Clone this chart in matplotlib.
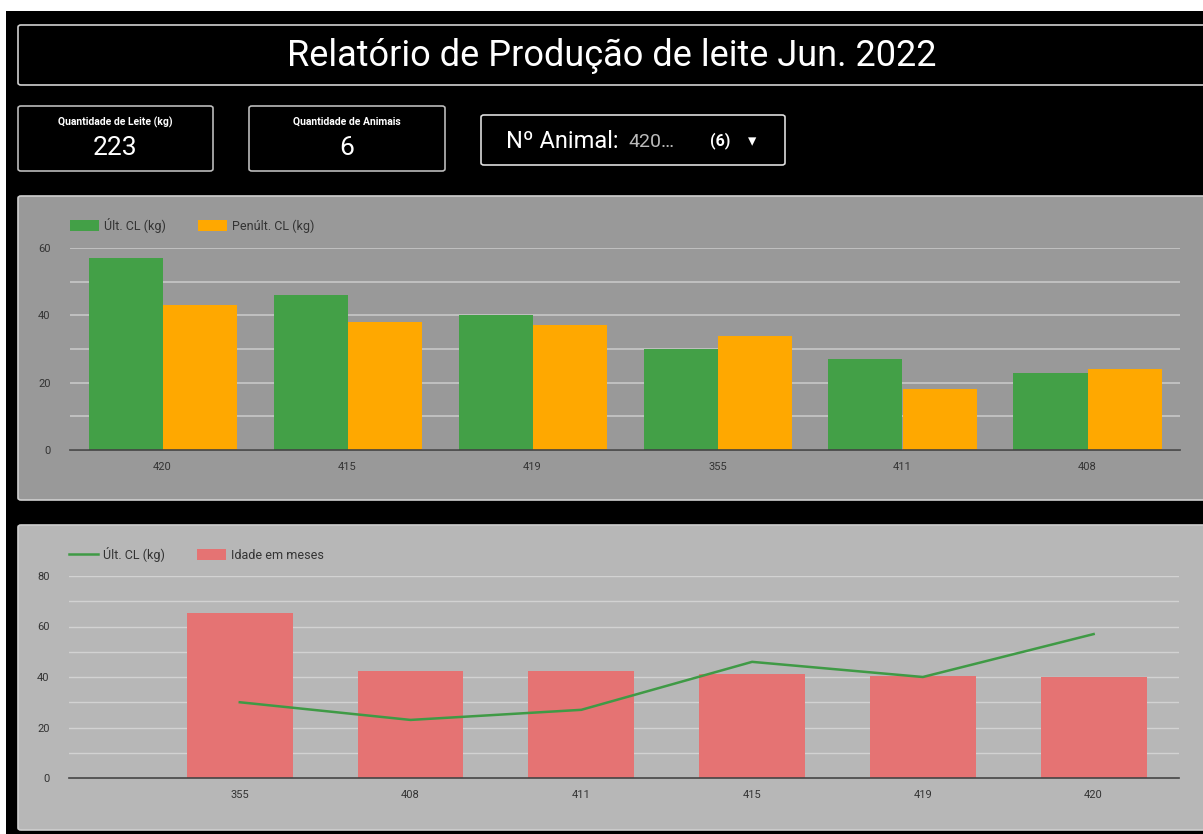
import numpy as np
import matplotlib
matplotlib.use("Agg")
import matplotlib.pyplot as plt
from matplotlib.patches import Rectangle, FancyBboxPatch, Patch
from matplotlib.lines import Line2D

plt.rcParams['font.family'] = ['Roboto', 'DejaVu Sans']

# dados do relatório
animais_cl = ['420', '415', '419', '355', '411', '408']
ult_cl = [57, 46, 40, 30, 27, 23]
penult_cl = [43, 38, 37, 34, 18, 24]

animais_idade = ['355', '408', '411', '415', '419', '420']
idade_meses = [65.5, 42.5, 42.5, 41, 40.5, 40]
ult_cl_idade = [30, 23, 27, 46, 40, 57]

total_leite = sum(ult_cl)
n_animais = len(animais_cl)

W, H = 1203, 834
fig = plt.figure(figsize=(W / 100, H / 100), dpi=100, facecolor='black')


def fx(x):
    return x / W


def fy(y):
    return 1 - y / H


def box(x0, y0, x1, y1, face='black', edge='#d0d0d0', lw=1.2, r=3):
    p = FancyBboxPatch((fx(x0), fy(y1)), fx(x1) - fx(x0), fy(y0) - fy(y1),
                       boxstyle="round,pad=0,rounding_size=%f" % (r / W),
                       transform=fig.transFigure, facecolor=face, edgecolor=edge,
                       linewidth=lw, zorder=-1)
    fig.patches.append(p)


# faixas brancas da captura de tela
fig.patches.append(Rectangle((0, fy(11)), 1, 11 / H, transform=fig.transFigure,
                             facecolor='white', edgecolor='none', zorder=-1))
fig.patches.append(Rectangle((0, 0), 6 / W, 1, transform=fig.transFigure,
                             facecolor='white', edgecolor='none', zorder=-1))

# cabeçalho
box(18, 25, 1215, 85)
fig.text(fx(612), fy(56), 'Relatório de Produção de leite Jun. 2022', color='white',
         fontsize=26, ha='center', va='center')

# cartões
box(18, 106, 213, 171, edge='#bbbbbb')
fig.text(fx(115), fy(122), 'Quantidade de Leite (kg)', color='white', fontsize=7.5,
         fontweight='bold', ha='center', va='center')
fig.text(fx(115), fy(148), str(total_leite), color='white', fontsize=19,
         ha='center', va='center')
box(249, 106, 445, 171, edge='#bbbbbb')
fig.text(fx(347), fy(122), 'Quantidade de Animais', color='white', fontsize=7.5,
         fontweight='bold', ha='center', va='center')
fig.text(fx(347), fy(148), str(n_animais), color='white', fontsize=19,
         ha='center', va='center')

box(481, 115, 785, 165, edge='#dddddd')
fig.text(fx(506), fy(141), 'Nº Animal:', color='white', fontsize=17, ha='left', va='center')
fig.text(fx(628), fy(142), animais_cl[0] + '…', color='#bbbbbb', fontsize=14,
         ha='left', va='center')
fig.text(fx(710), fy(141), '(%d)' % n_animais, color='white', fontsize=11.5,
         fontweight='bold', ha='left', va='center')
fig.text(fx(752), fy(142), '▾', color='white', fontsize=12, ha='center', va='center')

# painéis
box(18, 196, 1215, 500, face='#999999', edge='#cfcfcf')
box(18, 525, 1215, 830, face='#b7b7b7', edge='#cfcfcf')

tick_color = '#333333'

# gráfico 1: barras agrupadas
ax1 = fig.add_axes([fx(70), fy(450), fx(1180) - fx(70), fy(248) - fy(450)])
ax1.set_facecolor('none')
x = np.arange(len(animais_cl))
w = 0.4
ax1.bar(x - w / 2, ult_cl, w, color='#43a047', label='Últ. CL (kg)', zorder=3)
ax1.bar(x + w / 2, penult_cl, w, color='#ffa800', label='Penúlt. CL (kg)', zorder=3)
ax1.set_xlim(-0.5, len(animais_cl) - 0.5)
ax1.set_ylim(0, 60)
ax1.set_yticks([0, 20, 40, 60])
ax1.set_yticks([10, 30, 50], minor=True)
ax1.set_xticks(x)
ax1.set_xticklabels(animais_cl)
ax1.grid(axis='y', which='both', color='#c4c4c4', linewidth=1.3, zorder=0)
ax1.tick_params(axis='both', which='both', length=0, labelsize=8, colors=tick_color)
ax1.tick_params(axis='x', pad=9)
ax1.tick_params(axis='y', pad=14)
for s in ['top', 'right', 'left']:
    ax1.spines[s].set_visible(False)
ax1.spines['bottom'].set_color('#444444')
ax1.spines['bottom'].set_linewidth(1.2)
ax1.spines['bottom'].set_zorder(4)
ax1.legend(loc='lower left', bbox_to_anchor=(0, 1.075), ncol=2, frameon=False,
           fontsize=9, handlelength=2.3, handleheight=0.95, columnspacing=2.6,
           handletextpad=0.4, borderaxespad=0, borderpad=0, labelcolor=tick_color)

# gráfico 2: barras + linha
ax2 = fig.add_axes([fx(69), fy(778), fx(1179) - fx(69), fy(576) - fy(778)])
ax2.set_facecolor('none')
x2 = np.arange(len(animais_idade))
ax2.bar(x2, idade_meses, 0.62, color='#e57373', zorder=2)
ax2.plot(x2, ult_cl_idade, color='#3f9a45', linewidth=1.8, zorder=3)
ax2.set_xlim(-1.0, len(animais_idade) - 0.5)
ax2.set_ylim(0, 80)
ax2.set_yticks([0, 20, 40, 60, 80])
ax2.set_yticks([10, 30, 50, 70], minor=True)
ax2.set_xticks(x2)
ax2.set_xticklabels(animais_idade)
ax2.grid(axis='y', which='both', color='#d2d2d2', linewidth=1.0, zorder=0)
ax2.tick_params(axis='both', which='both', length=0, labelsize=8, colors=tick_color)
ax2.tick_params(axis='x', pad=9)
ax2.tick_params(axis='y', pad=14)
for s in ['top', 'right', 'left']:
    ax2.spines[s].set_visible(False)
ax2.spines['bottom'].set_color('#444444')
ax2.spines['bottom'].set_linewidth(1.2)
ax2.spines['bottom'].set_zorder(4)
handles = [Line2D([0], [0], color='#3f9a45', linewidth=1.8),
           Patch(facecolor='#e57373')]
ax2.legend(handles, ['Últ. CL (kg)', 'Idade em meses'], loc='lower left',
           bbox_to_anchor=(0, 1.07), ncol=2, frameon=False, fontsize=9,
           handlelength=2.3, handleheight=0.95, columnspacing=2.6, handletextpad=0.4,
           borderaxespad=0, borderpad=0, labelcolor=tick_color)

fig.savefig('out.png', dpi=100, facecolor='black')
